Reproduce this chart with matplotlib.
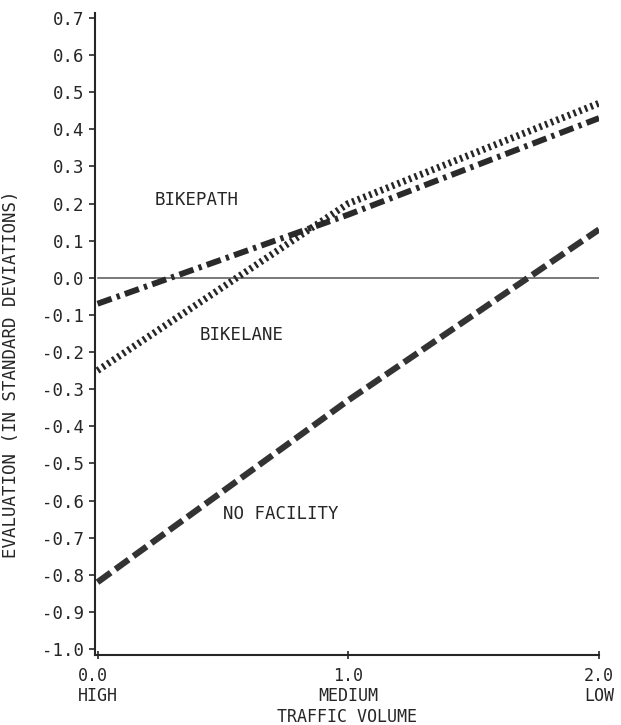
import numpy as np
import matplotlib
matplotlib.use("Agg")
import matplotlib.pyplot as plt

plt.rcParams['font.family'] = ['DejaVu Sans Mono']

# traffic volume positions and their labels
traffic = [0.0, 1.0, 2.0]
traffic_labels = ['0.0\nHIGH', '1.0\nMEDIUM', '2.0\nLOW']

# evaluation (standard deviations) per facility type
bikepath = [-0.07, 0.17, 0.43]
bikelane = [-0.25, 0.20, 0.47]
no_facility = [-0.82, -0.33, 0.13]

yticks = np.round(np.arange(-1.0, 0.71, 0.1), 1)
ytick_labels = ['%.1f' % v if v != 0 else '0.0' for v in yticks]

fig = plt.figure(figsize=(6.21, 7.25), dpi=100)
ax = fig.add_axes([0.153, 0.0966, 0.8116, 0.8854])

ink = '#262626'

ax.plot([0, 2], [0, 0], color='#555555', lw=1.1, zorder=1)

ax.plot(traffic, no_facility, color='#333333', lw=4.5, dashes=(2.6, 0.95),
        dash_capstyle='butt', zorder=3)
ax.plot(traffic, bikelane, color=ink, lw=5.0, dashes=(0.36, 0.52),
        dash_capstyle='butt', zorder=3)
ax.plot(traffic, bikepath, color='#2a2a2a', lw=4.3,
        dashes=(2.5, 0.9, 0.55, 0.9), dash_capstyle='butt', zorder=2)

ax.text(0.395, 0.21, 'BIKEPATH', ha='center', va='center', fontsize=12.5, color=ink)
ax.text(0.575, -0.155, 'BIKELANE', ha='center', va='center', fontsize=12.5, color=ink)
ax.text(0.73, -0.635, 'NO FACILITY', ha='center', va='center', fontsize=12.5, color=ink)

ax.set_xlim(-0.01, 2.0)
ax.set_ylim(-1.016, 0.713)
ax.set_xticks(traffic)
ax.set_xticklabels(traffic_labels, fontsize=12, color=ink, linespacing=1.1)
labs = ax.get_xticklabels()
labs[0].set_multialignment('left')
labs[2].set_multialignment('right')
ax.set_yticks(yticks)
ax.set_yticklabels(ytick_labels, fontsize=12.5, color=ink)

for s in ['top', 'right']:
    ax.spines[s].set_visible(False)
for s in ['left', 'bottom']:
    ax.spines[s].set_color(ink)
    ax.spines[s].set_linewidth(1.5)

ax.tick_params(axis='y', direction='out', length=4, width=1.2, colors=ink, pad=4)
ax.tick_params(axis='x', direction='inout', length=6, width=1.2, colors=ink, pad=6)

ax.set_xlabel('TRAFFIC VOLUME', fontsize=12, color=ink)
ax.xaxis.set_label_coords(0.5, -0.083)
ax.set_ylabel('EVALUATION (IN STANDARD DEVIATIONS)', fontsize=12.5, color=ink)
ax.yaxis.set_label_coords(-0.148, 0.438)

fig.savefig('out.png', dpi=100, facecolor='white')
